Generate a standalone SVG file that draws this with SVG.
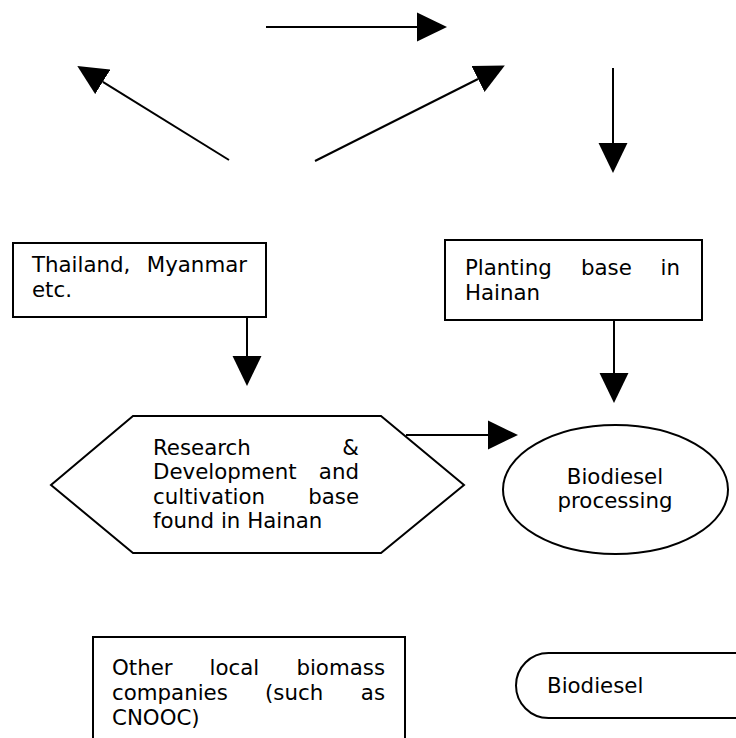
<svg xmlns="http://www.w3.org/2000/svg" width="736" height="738" viewBox="0 0 736 738">
  <style>
    .shape { fill: #fff; stroke: #000; stroke-width: 2; }
    .link { fill: none; stroke: #000; stroke-width: 2; marker-end: url(#head); }
    text { font-family: "DejaVu Sans", "Liberation Sans", sans-serif; font-size: 21.33px; fill: #000; }
    .end { text-anchor: end; }
    .mid { text-anchor: middle; }
  </style>
  <defs>
    <marker id="head" markerUnits="userSpaceOnUse" markerWidth="30" markerHeight="30" viewBox="0 0 28 27" refX="0" refY="13.5" orient="auto">
      <path d="M0,0 L28,13.5 L0,27 z" fill="#000"/>
    </marker>
  </defs>
  <rect width="736" height="738" fill="#fff"/>

  <!-- connectors -->
  <g id="connectors">
    <line class="link" x1="266" y1="27" x2="417" y2="27"/>
    <line class="link" x1="229" y1="160" x2="102.8" y2="81.8"/>
    <line class="link" x1="315" y1="161" x2="478" y2="79"/>
    <line class="link" x1="613" y1="68" x2="613" y2="143"/>
    <line class="link" x1="247" y1="317" x2="247" y2="356"/>
    <line class="link" x1="614" y1="320" x2="614" y2="373"/>
    <line class="link" x1="406" y1="435" x2="488" y2="435"/>
  </g>

  <!-- source countries -->
  <g id="thailand">
    <rect class="shape" x="13" y="243" width="253" height="74"/>
    <text x="32" y="272">Thailand,</text>
    <text class="end" x="247" y="272">Myanmar</text>
    <text x="32" y="297">etc.</text>
  </g>

  <!-- planting base -->
  <g id="planting">
    <rect class="shape" x="445" y="240" width="257" height="80"/>
    <text x="465" y="275">Planting</text>
    <text x="581" y="275">base</text>
    <text class="end" x="680" y="275">in</text>
    <text x="465" y="300">Hainan</text>
  </g>

  <!-- research and cultivation base -->
  <g id="research">
    <polygon class="shape" points="133,416 381,416 464,485 381,553 133,553 51,485"/>
    <text x="153" y="455">Research</text>
    <text class="end" x="359" y="455">&amp;</text>
    <text x="153" y="479">Development</text>
    <text class="end" x="359" y="479">and</text>
    <text x="153" y="504">cultivation</text>
    <text class="end" x="359" y="504">base</text>
    <text x="153" y="528">found in Hainan</text>
  </g>

  <!-- processing -->
  <g id="processing">
    <ellipse class="shape" cx="615.5" cy="489.5" rx="112.5" ry="64.5"/>
    <text class="mid" x="615" y="484">Biodiesel</text>
    <text class="mid" x="615" y="508">processing</text>
  </g>

  <!-- other companies -->
  <g id="companies">
    <rect class="shape" x="93" y="637" width="312" height="130"/>
    <text x="112" y="675">Other</text>
    <text x="209.5" y="675">local</text>
    <text class="end" x="385" y="675">biomass</text>
    <text x="112" y="700">companies</text>
    <text x="265" y="700">(such</text>
    <text class="end" x="385" y="700">as</text>
    <text x="112" y="725">CNOOC)</text>
  </g>

  <!-- product -->
  <g id="biodiesel">
    <rect class="shape" x="516" y="653" width="250" height="65" rx="32.5" ry="32.5"/>
    <text x="547" y="693">Biodiesel</text>
  </g>
</svg>
